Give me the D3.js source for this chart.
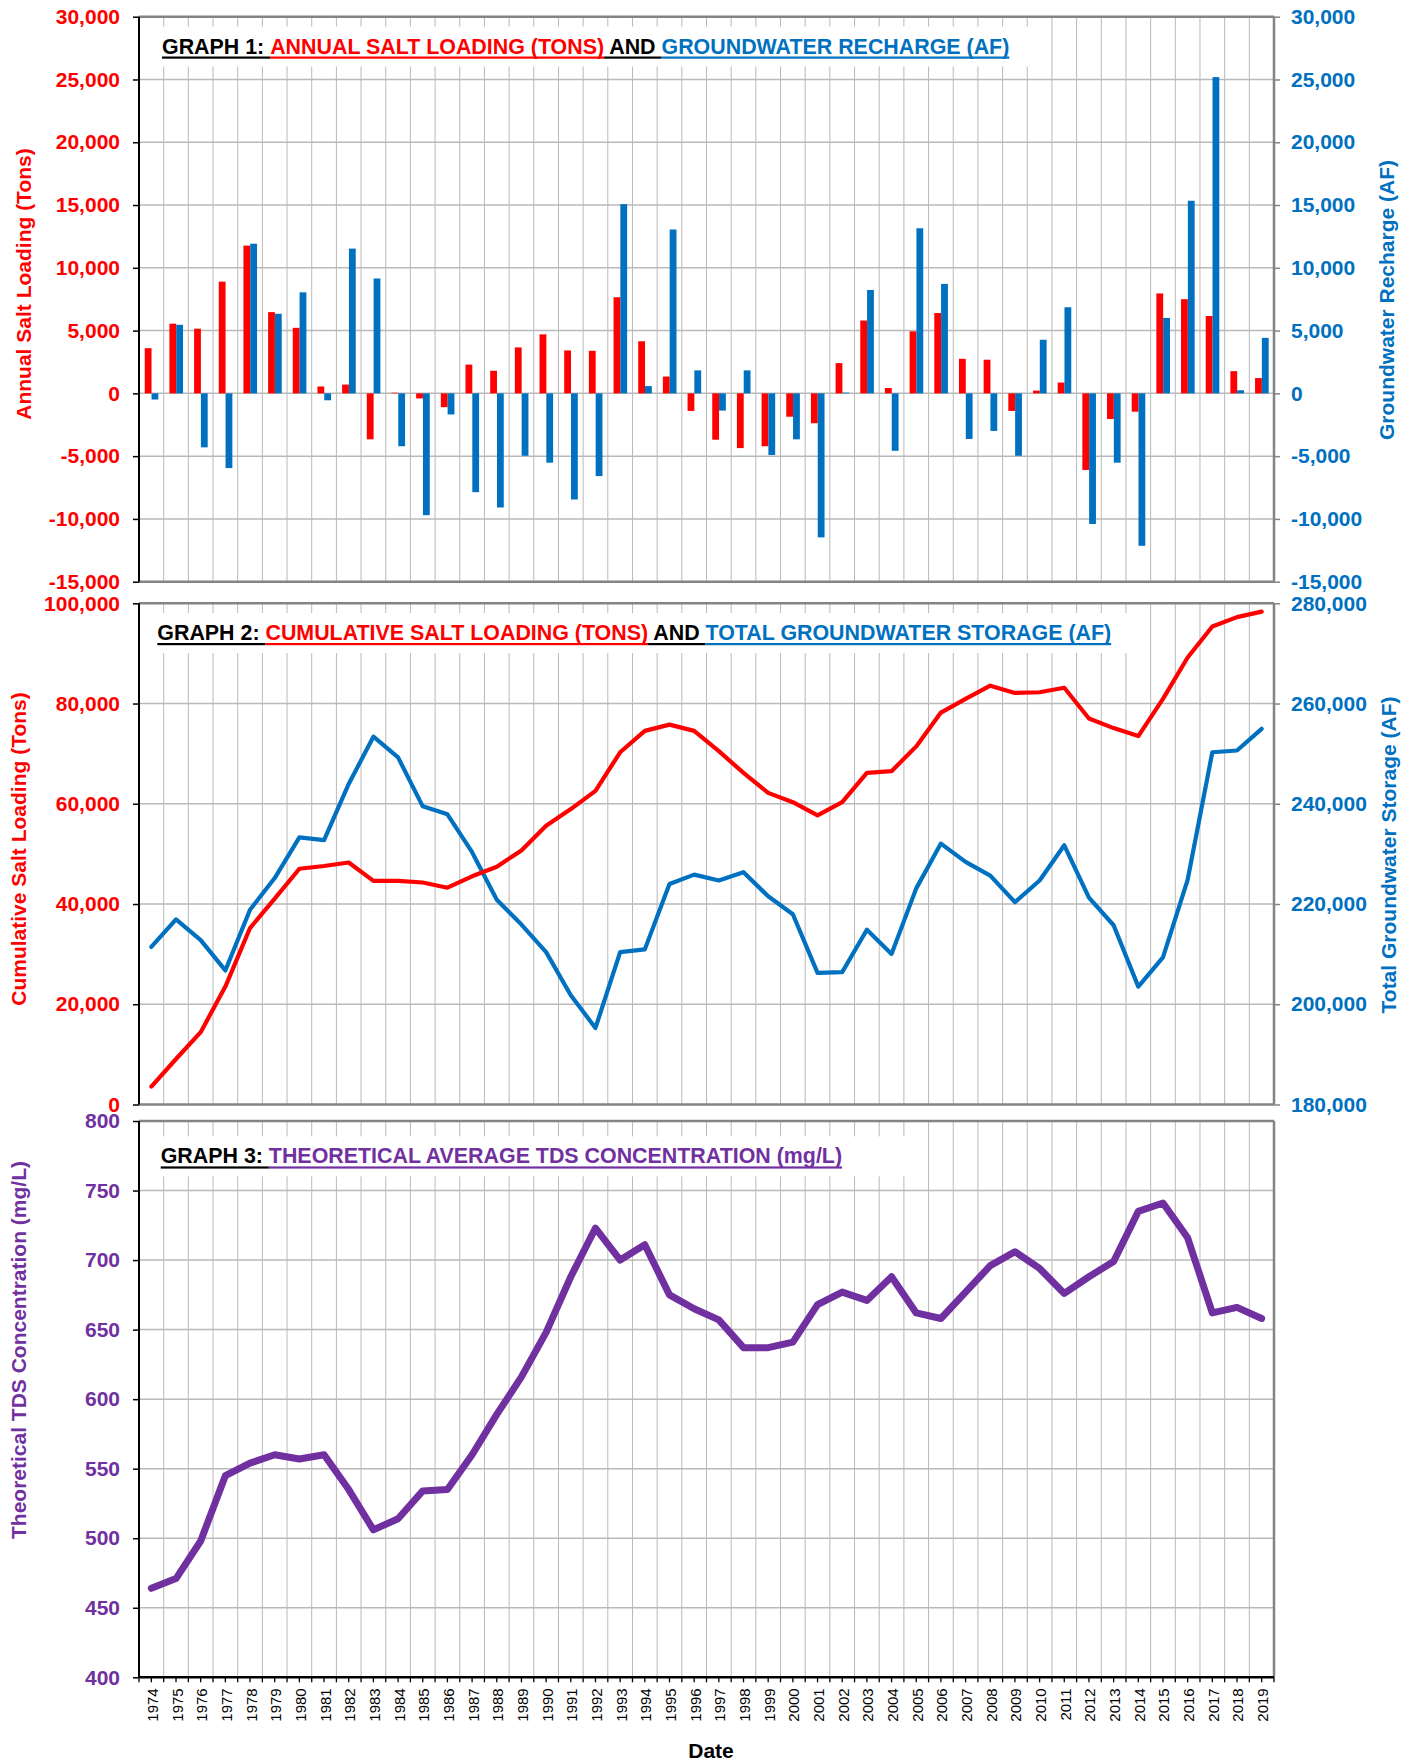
<!DOCTYPE html>
<html>
<head>
<meta charset="utf-8">
<script src="https://cdn.jsdelivr.net/npm/d3@7"></script>
<style>
  body { margin: 0; background: #fff; }
  svg { display: block; }
  text { font-family: Arial, "Liberation Sans", sans-serif; }
</style>
</head>
<body>
<svg id="chart" width="1415" height="1763"></svg>
<script>
// ---- data -------------------------------------------------------------
const years = ["1974","1975","1976","1977","1978","1979","1980","1981","1982","1983",
  "1984","1985","1986","1987","1988","1989","1990","1991","1992","1993","1994","1995",
  "1996","1997","1998","1999","2000","2001","2002","2003","2004","2005","2006","2007",
  "2008","2009","2010","2011","2012","2013","2014","2015","2016","2017","2018","2019"];

// Graph 1: annual salt loading (tons) and groundwater recharge (AF)
const annualSaltLoading = [3600, 5550, 5150, 8900, 11770, 6470, 5220, 550, 700, -3660,
  50, -400, -1100, 2290, 1800, 3660, 4700, 3420, 3390, 7660, 4150, 1340,
  -1400, -3690, -4360, -4210, -1860, -2380, 2410, 5800, 430, 4940, 6400, 2750,
  2680, -1400, 220, 860, -6100, -2040, -1460, 7960, 7500, 6160, 1770, 1220];
const groundwaterRecharge = [-490, 5460, -4300, -5950, 11920, 6340, 8050, -550, 11530, 9150,
  -4210, -9700, -1680, -7870, -9090, -4970, -5520, -8450, -6590, 15070, 580, 13050,
  1830, -1370, 1830, -4910, -3660, -11470, 60, 8235, -4575, 13150, 8720, -3630,
  -2990, -4970, 4270, 6860, -10400, -5520, -12140, 6010, 15340, 25190, 245, 4420];

// Graph 2: cumulative salt loading (tons) and total groundwater storage (AF)
const cumulativeSaltLoading = [3580, 9080, 14440, 23520, 35210, 41060, 47040, 47590, 48280, 44630,
  44630, 44290, 43260, 45530, 47450, 50680, 55630, 58940, 62580, 70280, 74550, 75790,
  74550, 70500, 66160, 62170, 60310, 57700, 60310, 66160, 66500, 71450, 78190, 80940,
  83560, 82110, 82250, 83140, 77020, 75100, 73510, 80940, 89190, 95380, 97240, 98340];
const totalGroundwaterStorage = [211430, 216930, 212800, 206750, 218850, 225180, 233300, 232750, 243960, 253380,
  249250, 239490, 237900, 230340, 220850, 215900, 210400, 201800, 195270, 210400, 210950, 224010,
  225870, 224700, 226350, 221540, 217960, 206270, 206410, 214870, 210050, 223120, 232060, 228410,
  225660, 220370, 224700, 231720, 221260, 215760, 203520, 209360, 224840, 250280, 250630, 254960];

// Graph 3: theoretical average TDS concentration (mg/L)
const tdsConcentration = [464, 471, 498, 545, 554, 560, 557, 560, 535, 506,
  514, 534, 535, 560, 589, 616, 648, 688, 723, 700, 711, 675,
  665, 657, 637, 637, 641, 668, 677, 671, 688, 662, 658, 677,
  696, 706, 694, 676, 688, 699, 735, 741, 716, 662, 666, 658];

// axis ticks
const saltTicks1 = [-15000, -10000, -5000, 0, 5000, 10000, 15000, 20000, 25000, 30000];
const rechargeTicks = [-15000, -10000, -5000, 0, 5000, 10000, 15000, 20000, 25000, 30000];
const cumSaltTicks = [0, 20000, 40000, 60000, 80000, 100000];
const storageTicks = [180000, 200000, 220000, 240000, 260000, 280000];
const tdsTicks = [400, 450, 500, 550, 600, 650, 700, 750, 800];

// ---- styling ----------------------------------------------------------
const RED = "#FF0000", BLUE = "#0070C0", PURPLE = "#7030A0";
const FRAME = "#848484", GRID = "#b9b9b9";
const FONT = 21, HEAD_FONT = 21.4;

const svg = d3.select("#chart");
const plotL = 139, plotR = 1274;
const commas = d3.format(",");
const fmt = v => commas(v).replace("\u2212", "-");

const x = d3.scaleBand().domain(years).range([plotL, plotR]).padding(0);
const bw = x.bandwidth();
const cx = d => x(d) + bw / 2;

function drawFrame(p) {
  const g = svg.append("g");
  // horizontal gridlines
  g.selectAll(".hg").data(p.leftTicks.slice(1, -1)).join("line")
    .attr("x1", plotL).attr("x2", plotR)
    .attr("y1", d => p.yL(d)).attr("y2", d => p.yL(d))
    .attr("stroke", GRID).attr("stroke-width", 1.5);
  // vertical gridlines at year boundaries
  g.selectAll(".vg").data(years.slice(1)).join("line")
    .attr("x1", d => x(d)).attr("x2", d => x(d))
    .attr("y1", p.top).attr("y2", p.bottom)
    .attr("stroke", GRID).attr("stroke-width", 1);
  return g;
}

function drawBorders(p, bottomColor) {
  const g = svg.append("g");
  g.append("line").attr("x1", plotL).attr("x2", plotR).attr("y1", p.top).attr("y2", p.top)
    .attr("stroke", FRAME).attr("stroke-width", 2.5);
  g.append("line").attr("x1", plotR).attr("x2", plotR).attr("y1", p.top).attr("y2", p.bottom)
    .attr("stroke", FRAME).attr("stroke-width", 2.5);
  g.append("line").attr("x1", plotL).attr("x2", plotR).attr("y1", p.bottom).attr("y2", p.bottom)
    .attr("stroke", bottomColor).attr("stroke-width", 2.5);
  g.append("line").attr("x1", plotL).attr("x2", plotL).attr("y1", p.top).attr("y2", p.bottom)
    .attr("stroke", "#000").attr("stroke-width", 2);
}

function drawLeftAxis(p, color, title, titleY) {
  const g = svg.append("g").attr("transform", `translate(${plotL},0)`);
  const ax = d3.axisLeft(p.yL).tickValues(p.leftTicks).tickFormat(fmt).tickSize(6).tickPadding(13);
  g.call(ax);
  g.select(".domain").remove();
  g.selectAll(".tick line").attr("stroke", "#000").attr("stroke-width", 1.5);
  g.selectAll(".tick text").attr("fill", color).attr("font-size", FONT).attr("font-weight", "bold")
    .attr("font-family", "Arial, 'Liberation Sans', sans-serif");
  svg.append("text")
    .attr("transform", `translate(${p.leftTitleX},${titleY}) rotate(-90)`)
    .attr("text-anchor", "middle").attr("dominant-baseline", "central")
    .attr("fill", color).attr("font-size", FONT).attr("font-weight", "bold")
    .text(title);
}

function drawRightAxis(p, scale, ticks, color, title, titleY) {
  const g = svg.append("g").attr("transform", `translate(${plotR},0)`);
  const ax = d3.axisRight(scale).tickValues(ticks).tickFormat(fmt).tickSize(6).tickPadding(11);
  g.call(ax);
  g.select(".domain").remove();
  g.selectAll(".tick line").attr("stroke", FRAME).attr("stroke-width", 1.5);
  g.selectAll(".tick text").attr("fill", color).attr("font-size", FONT).attr("font-weight", "bold")
    .attr("font-family", "Arial, 'Liberation Sans', sans-serif");
  svg.append("text")
    .attr("transform", `translate(${p.rightTitleX},${titleY}) rotate(-90)`)
    .attr("text-anchor", "middle").attr("dominant-baseline", "central")
    .attr("fill", color).attr("font-size", FONT).attr("font-weight", "bold")
    .text(title);
}

// underlined, multi-coloured chart heading on a white box
function drawHeading(p, segments, startX, baseY, boxRight) {
  svg.append("rect").attr("x", plotL + 1.5).attr("y", baseY - 27)
    .attr("width", boxRight - plotL).attr("height", 40).attr("fill", "#fff");
  let cur = startX;
  segments.forEach(s => {
    const t = svg.append("text").attr("x", cur).attr("y", baseY)
      .attr("fill", s.color).attr("font-size", HEAD_FONT).attr("font-weight", "bold")
      .attr("xml:space", "preserve").style("white-space", "pre")
      .text(s.text);
    const w = t.node().getComputedTextLength();
    svg.append("rect").attr("x", cur).attr("y", baseY + 3).attr("width", w).attr("height", 2.2)
      .attr("fill", s.color);
    cur += w;
  });
}

// ---- Graph 1 ----------------------------------------------------------
const p1 = { top: 16.7, bottom: 581.7, leftTitleX: 23, rightTitleX: 1386, leftTicks: saltTicks1 };
p1.yL = d3.scaleLinear().domain([-15000, 30000]).range([p1.bottom, p1.top]);
p1.yR = d3.scaleLinear().domain([-15000, 30000]).range([p1.bottom, p1.top]);
drawFrame(p1);
drawHeading(p1, [
  { text: "GRAPH 1: ", color: "#000" },
  { text: "ANNUAL SALT LOADING (TONS)", color: RED },
  { text: " AND ", color: "#000" },
  { text: "GROUNDWATER RECHARGE (AF)", color: BLUE }
], 162, 53.5, 1030);

const sub = d3.scaleBand().domain(["salt", "recharge"]).range([-6.6, 7]).padding(0);
const bars = years.map((yr, i) => ({ yr, salt: annualSaltLoading[i], recharge: groundwaterRecharge[i] }));
const bg = svg.append("g");
bg.selectAll(".salt").data(bars).join("rect")
  .attr("x", d => cx(d.yr) + sub("salt")).attr("width", sub.bandwidth())
  .attr("y", d => p1.yL(Math.max(0, d.salt)))
  .attr("height", d => Math.abs(p1.yL(d.salt) - p1.yL(0)))
  .attr("fill", RED);
bg.selectAll(".rech").data(bars).join("rect")
  .attr("x", d => cx(d.yr) + sub("recharge")).attr("width", sub.bandwidth())
  .attr("y", d => p1.yR(Math.max(0, d.recharge)))
  .attr("height", d => Math.abs(p1.yR(d.recharge) - p1.yR(0)))
  .attr("fill", BLUE);
drawBorders(p1, FRAME);
drawLeftAxis(p1, RED, "Annual Salt Loading (Tons)", 284);
drawRightAxis(p1, p1.yR, rechargeTicks, BLUE, "Groundwater Recharge (AF)", 300);

// ---- Graph 2 ----------------------------------------------------------
const p2 = { top: 603.3, bottom: 1104.5, leftTitleX: 18, rightTitleX: 1388, leftTicks: cumSaltTicks };
p2.yL = d3.scaleLinear().domain([0, 100000]).range([p2.bottom, p2.top]);
p2.yR = d3.scaleLinear().domain([180000, 280000]).range([p2.bottom, p2.top]);
drawFrame(p2);
drawHeading(p2, [
  { text: "GRAPH 2: ", color: "#000" },
  { text: "CUMULATIVE SALT LOADING (TONS)", color: RED },
  { text: " AND ", color: "#000" },
  { text: "TOTAL GROUNDWATER STORAGE (AF)", color: BLUE }
], 157.3, 640, 1135);

const line2L = d3.line().x((d, i) => cx(years[i])).y(d => p2.yL(d));
const line2R = d3.line().x((d, i) => cx(years[i])).y(d => p2.yR(d));
svg.append("path").attr("d", line2R(totalGroundwaterStorage)).attr("fill", "none")
  .attr("stroke", BLUE).attr("stroke-width", 4.2).attr("stroke-linejoin", "round").attr("stroke-linecap", "round");
svg.append("path").attr("d", line2L(cumulativeSaltLoading)).attr("fill", "none")
  .attr("stroke", RED).attr("stroke-width", 4.2).attr("stroke-linejoin", "round").attr("stroke-linecap", "round");
drawBorders(p2, FRAME);
drawLeftAxis(p2, RED, "Cumulative Salt Loading (Tons)", 849);
drawRightAxis(p2, p2.yR, storageTicks, BLUE, "Total Groundwater Storage (AF)", 855);

// ---- Graph 3 ----------------------------------------------------------
const p3 = { top: 1121, bottom: 1677.3, leftTitleX: 18, leftTicks: tdsTicks };
p3.yL = d3.scaleLinear().domain([400, 800]).range([p3.bottom, p3.top]);
drawFrame(p3);
drawHeading(p3, [
  { text: "GRAPH 3: ", color: "#000" },
  { text: "THEORETICAL AVERAGE TDS CONCENTRATION (mg/L)", color: PURPLE }
], 160.7, 1163.4, 904);

const line3 = d3.line().x((d, i) => cx(years[i])).y(d => p3.yL(d));
svg.append("path").attr("d", line3(tdsConcentration)).attr("fill", "none")
  .attr("stroke", PURPLE).attr("stroke-width", 7).attr("stroke-linejoin", "round").attr("stroke-linecap", "round");
drawBorders(p3, "#000");
drawLeftAxis(p3, PURPLE, "Theoretical TDS Concentration (mg/L)", 1350);

// x axis: ticks at year boundaries and centres, rotated year labels
const xa = svg.append("g");
const half = years.flatMap(y => [x(y), cx(y)]).concat([plotR]);
xa.selectAll("line").data(half).join("line")
  .attr("x1", d => d).attr("x2", d => d).attr("y1", p3.bottom).attr("y2", p3.bottom + 5)
  .attr("stroke", "#000").attr("stroke-width", 1.3);
xa.selectAll("text").data(years).join("text")
  .attr("transform", d => `translate(${cx(d) + 1},${p3.bottom + 11}) rotate(-90)`)
  .attr("text-anchor", "end").attr("dominant-baseline", "central")
  .attr("font-size", 15).attr("fill", "#000")
  .text(d => d);
svg.append("text").attr("x", 711).attr("y", 1758).attr("text-anchor", "middle")
  .attr("font-size", FONT).attr("font-weight", "bold").attr("fill", "#000").text("Date");
</script>
</body>
</html>
